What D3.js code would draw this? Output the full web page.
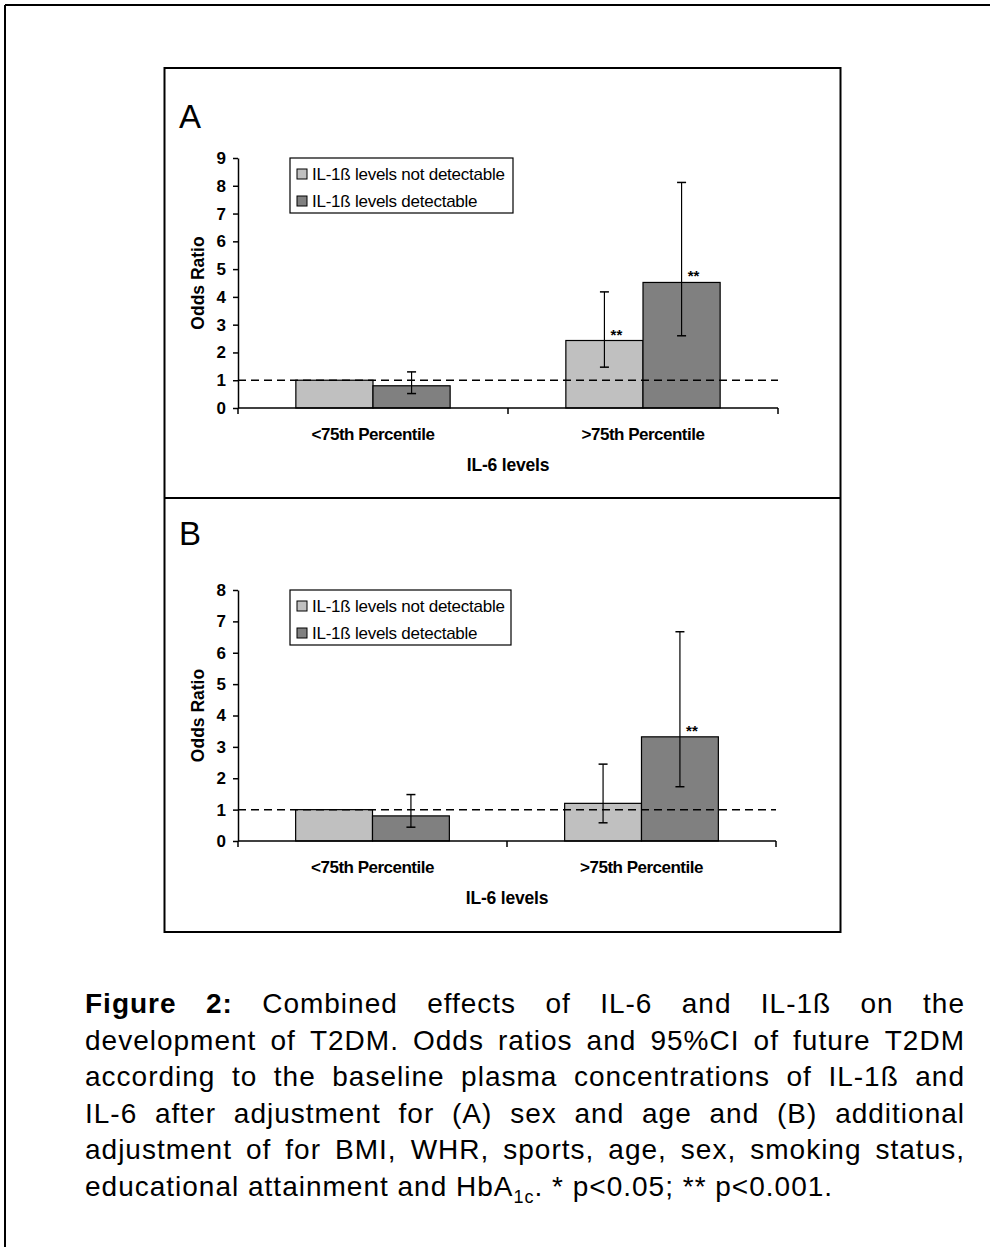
<!DOCTYPE html>
<html><head><meta charset="utf-8">
<script src="https://cdn.jsdelivr.net/npm/d3@7"></script>
<style>body{margin:0;background:#fff}svg{display:block}text{font-family:"Liberation Sans",Arial,sans-serif}</style>
</head><body>
<svg id="fig" width="990" height="1247"></svg>
<script>
// ---- data ----
const categories = ["<75th Percentile", ">75th Percentile"];
const seriesNames = ["IL-1ß levels not detectable", "IL-1ß levels detectable"];
const seriesColors = ["#c0c0c0", "#808080"];
// Panel A (adjusted for sex and age)
const valuesA = [[1.0, 0.8], [2.43, 4.52]];
const lowerA  = [[null, 0.52], [1.47, 2.6]];
const upperA  = [[null, 1.3], [4.18, 8.12]];
const starsA  = [["", ""], ["**", "**"]];
const ticksA  = [0,1,2,3,4,5,6,7,8,9];
// Panel B (additional adjustment)
const valuesB = [[1.0, 0.8], [1.2, 3.32]];
const lowerB  = [[null, 0.44], [0.58, 1.73]];
const upperB  = [[null, 1.48], [2.45, 6.67]];
const starsB  = [["", ""], ["", "**"]];
const ticksB  = [0,1,2,3,4,5,6,7,8];
const refLine = 1;
const xTitle = "IL-6 levels";
const yTitle = "Odds Ratio";

const captionLines = [
  [{t:"Figure",b:1},{t:"2:",b:1},"Combined","effects","of","IL-6","and","IL-1ß","on","the"],
  ["development","of","T2DM.","Odds","ratios","and","95%CI","of","future","T2DM"],
  ["according","to","the","baseline","plasma","concentrations","of","IL-1ß","and"],
  ["IL-6","after","adjustment","for","(A)","sex","and","age","and","(B)","additional"],
  ["adjustment","of","for","BMI,","WHR,","sports,","age,","sex,","smoking","status,"]
];
const captionLast = ["educational attainment and HbA", "1c", ". * p<0.05; ** p<0.001."];

// ---- drawing ----
const svg = d3.select("#fig");
// outer frame
svg.append("line").attr("x1",5).attr("y1",5).attr("x2",990).attr("y2",5).attr("stroke","#000").attr("stroke-width",2);
svg.append("line").attr("x1",5).attr("y1",5).attr("x2",5).attr("y2",1247).attr("stroke","#000").attr("stroke-width",2);
// panel frames
svg.append("rect").attr("x",164.5).attr("y",68).attr("width",676).attr("height",864)
  .attr("fill","none").attr("stroke","#000").attr("stroke-width",2);
svg.append("line").attr("x1",164.5).attr("x2",840.5).attr("y1",498).attr("y2",498).attr("stroke","#000").attr("stroke-width",2);

function panel(opt){
  const g = svg.append("g");
  g.append("text").attr("x",opt.labelX).attr("y",opt.labelY).attr("font-size",33).text(opt.label);
  const y = d3.scaleLinear().domain([0, d3.max(opt.ticks)]).range([opt.y0, opt.y1]);
  const x0 = d3.scaleBand().domain(categories).range([opt.xl, opt.xr]).paddingInner(0).paddingOuter(0);
  const barW = x0.bandwidth()/3.5;
  const x1 = d3.scaleBand().domain(d3.range(seriesNames.length)).range([-barW, barW]);

  // bars
  categories.forEach((c,ci)=>{
    const cx = x0(c) + x0.bandwidth()/2;
    seriesNames.forEach((s,si)=>{
      const v = opt.values[ci][si];
      g.append("rect").attr("x",cx + x1(si)).attr("y",y(v)).attr("width",x1.bandwidth()).attr("height",y(0)-y(v))
        .attr("fill",seriesColors[si]).attr("stroke","#000").attr("stroke-width",1.2);
    });
  });
  // reference dashed line
  g.append("line").attr("x1",opt.xl).attr("x2",opt.xr).attr("y1",y(refLine)).attr("y2",y(refLine))
    .attr("stroke","#000").attr("stroke-width",1.5).attr("stroke-dasharray","8,5");
  // error bars & stars
  categories.forEach((c,ci)=>{
    const cx = x0(c) + x0.bandwidth()/2;
    seriesNames.forEach((s,si)=>{
      const bx = cx + x1(si) + x1.bandwidth()/2;
      const lo = opt.lower[ci][si], hi = opt.upper[ci][si];
      if(lo!=null){
        g.append("line").attr("x1",bx).attr("x2",bx).attr("y1",y(lo)).attr("y2",y(hi)).attr("stroke","#000").attr("stroke-width",1.2);
        [lo,hi].forEach(v=>g.append("line").attr("x1",bx-4.5).attr("x2",bx+4.5).attr("y1",y(v)).attr("y2",y(v)).attr("stroke","#000").attr("stroke-width",1.5));
      }
      if(opt.stars[ci][si]){
        g.append("text").attr("x",bx+12).attr("y",y(opt.values[ci][si])-1).attr("font-size",15).attr("font-weight","bold")
          .attr("text-anchor","middle").text(opt.stars[ci][si]);
      }
    });
  });
  // y axis
  const ya = g.append("g").attr("transform",`translate(${opt.xl},0)`)
    .call(d3.axisLeft(y).tickValues(opt.ticks).tickFormat(d3.format("d")).tickSize(5).tickSizeOuter(0).tickPadding(7));
  ya.select(".domain").attr("stroke-width",1.5);
  ya.selectAll(".tick line").attr("stroke-width",1.5);
  ya.selectAll(".tick text").attr("font-family","Liberation Sans, Arial").attr("font-size",17).attr("font-weight","bold").attr("fill","#000");
  // x axis (ticks at category boundaries)
  const xa = g.append("g").attr("transform",`translate(0,${opt.y0})`);
  xa.append("line").attr("x1",opt.xl).attr("x2",opt.xr).attr("stroke","#000").attr("stroke-width",1.5);
  const bounds = categories.map(c=>x0(c)).concat([x0(categories[categories.length-1])+x0.bandwidth()]);
  bounds.forEach(bx=>xa.append("line").attr("x1",bx).attr("x2",bx).attr("y1",0).attr("y2",6).attr("stroke","#000").attr("stroke-width",1.5));
  categories.forEach(c=>{
    xa.append("text").attr("x",x0(c)+x0.bandwidth()/2).attr("y",32).attr("text-anchor","middle")
      .attr("font-size",17).attr("font-weight","bold").attr("letter-spacing","-0.5").text(c);
  });
  // titles
  g.append("text").attr("x",(opt.xl+opt.xr)/2).attr("y",opt.y0+63).attr("text-anchor","middle")
    .attr("font-size",17.5).attr("font-weight","bold").attr("letter-spacing","-0.2").text(xTitle);
  g.append("text").attr("transform",`translate(${opt.xl-34},${(opt.y0+opt.y1)/2}) rotate(-90)`).attr("text-anchor","middle")
    .attr("font-size",17.5).attr("font-weight","bold").text(yTitle);
  // legend
  const lg = g.append("g").attr("transform",`translate(${opt.legX},${opt.legY})`);
  lg.append("rect").attr("x",0).attr("y",0).attr("width",opt.legW).attr("height",55).attr("fill","#fff").attr("stroke","#000").attr("stroke-width",1.2);
  seriesNames.forEach((s,i)=>{
    lg.append("rect").attr("x",7).attr("y",11+i*27).attr("width",10).attr("height",10).attr("fill",seriesColors[i]).attr("stroke","#000").attr("stroke-width",1);
    lg.append("text").attr("x",22).attr("y",22+i*27).attr("font-size",17).attr("letter-spacing","-0.25").text(s);
  });
}

panel({label:"A", labelX:179, labelY:128, y0:408, y1:158, xl:238, xr:778,
  values:valuesA, lower:lowerA, upper:upperA, stars:starsA, ticks:ticksA, legX:290, legY:158, legW:223});
panel({label:"B", labelX:179, labelY:545, y0:841, y1:590, xl:238, xr:776,
  values:valuesB, lower:lowerB, upper:upperB, stars:starsB, ticks:ticksB, legX:290, legY:590, legW:221});

// caption (justified)
const capX0 = 85, capX1 = 965, capFS = 28, capLS = 1.0, base0 = 1013, lh = 36.6;
const cap = svg.append("g").attr("font-size",capFS).attr("letter-spacing",capLS);
captionLines.forEach((words,li)=>{
  const yb = base0 + li*lh;
  const nodes = words.map(w=>{
    const o = typeof w === "string" ? {t:w} : w;
    return cap.append("text").attr("y",yb).attr("font-weight",o.b?"bold":"normal").text(o.t);
  });
  const widths = nodes.map(n=>n.node().getComputedTextLength());
  const total = d3.sum(widths);
  const gap = (capX1 - capX0 - total)/(nodes.length-1);
  let xx = capX0;
  nodes.forEach((n,i)=>{ n.attr("x",xx); xx += widths[i] + gap; });
});
const last = cap.append("text").attr("x",capX0).attr("y",base0 + captionLines.length*lh);
last.append("tspan").text(captionLast[0]);
last.append("tspan").attr("dy",7).attr("font-size",18).text(captionLast[1]);
last.append("tspan").attr("dy",-7).text(captionLast[2]);
</script>
</body></html>
